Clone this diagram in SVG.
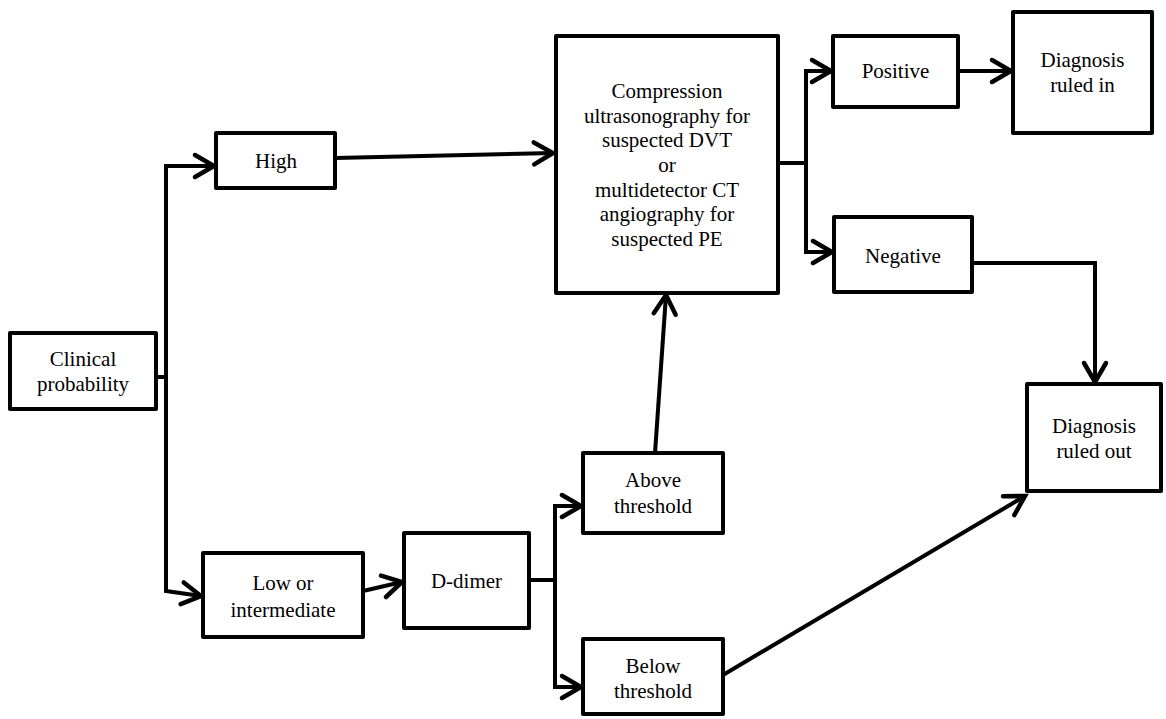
<svg xmlns="http://www.w3.org/2000/svg" width="1166" height="719" viewBox="0 0 1166 719">
<style>
.box{fill:#fff;stroke:#000;stroke-width:4;stroke-linejoin:round}
.t{font-family:'Liberation Serif','Times New Roman',serif;font-size:21px;fill:#000;text-anchor:middle}
.c{fill:none;stroke:#000;stroke-width:4;stroke-linejoin:miter}
.a{marker-end:url(#arr)}
</style>
<defs>
<marker id="arr" markerUnits="userSpaceOnUse" markerWidth="30" markerHeight="30" refX="0" refY="0" viewBox="-24 -15 30 30" orient="auto" overflow="visible">
<path d="M-19,-11 L0,0 L-19,11" fill="none" stroke="#000" stroke-width="4.5" stroke-linecap="round" stroke-linejoin="miter"/>
</marker>
</defs>
<g id="connectors">
<path class="c" d="M156,377 H166"/>
<path class="c a" d="M166,592 V166 H214"/>
<path class="c a" d="M166,588 V591 L201,596"/>
<path class="c a" d="M335,158 L553,153"/>
<path class="c a" d="M363,591 L402,582"/>
<path class="c" d="M529,580 H555"/>
<path class="c a" d="M555,580 V506 H581"/>
<path class="c a" d="M555,578 V687 H581"/>
<path class="c a" d="M655,453 L666,295"/>
<path class="c" d="M778,163 H806"/>
<path class="c a" d="M806,163 V71 H831"/>
<path class="c a" d="M806,161 V252 H832"/>
<path class="c a" d="M958,71 H1011"/>
<path class="c a" d="M972,263 H1095 V382"/>
<path class="c a" d="M723,675 L1025,496"/>
</g>
<g id="clinical">
<rect class="box" x="10" y="333" width="146" height="76"/>
<text class="t" x="83" y="366">Clinical</text>
<text class="t" x="83" y="391">probability</text>
</g>
<g id="high">
<rect class="box" x="216" y="133" width="119" height="55"/>
<text class="t" x="276" y="168">High</text>
</g>
<g id="low">
<rect class="box" x="203" y="553" width="160" height="84"/>
<text class="t" x="283" y="590">Low or</text>
<text class="t" x="283" y="617">intermediate</text>
</g>
<g id="ddimer">
<rect class="box" x="404" y="533" width="125" height="95"/>
<text class="t" x="466.5" y="588">D-dimer</text>
</g>
<g id="above">
<rect class="box" x="583" y="453" width="140" height="80"/>
<text class="t" x="653" y="487">Above</text>
<text class="t" x="653" y="513">threshold</text>
</g>
<g id="below">
<rect class="box" x="583" y="639" width="140" height="75"/>
<text class="t" x="653" y="673">Below</text>
<text class="t" x="653" y="698">threshold</text>
</g>
<g id="compression">
<rect class="box" x="556" y="36" width="222" height="257"/>
<text class="t" x="667" y="98">Compression</text>
<text class="t" x="667" y="123">ultrasonography for</text>
<text class="t" x="667" y="147">suspected DVT</text>
<text class="t" x="667" y="172">or</text>
<text class="t" x="667" y="197">multidetector CT</text>
<text class="t" x="667" y="221">angiography for</text>
<text class="t" x="667" y="246">suspected PE</text>
</g>
<g id="positive">
<rect class="box" x="833" y="36" width="125" height="71"/>
<text class="t" x="895.5" y="78">Positive</text>
</g>
<g id="negative">
<rect class="box" x="834" y="217" width="138" height="75"/>
<text class="t" x="903" y="263">Negative</text>
</g>
<g id="ruledin">
<rect class="box" x="1013" y="12" width="139" height="121"/>
<text class="t" x="1082.5" y="67">Diagnosis</text>
<text class="t" x="1082.5" y="92">ruled in</text>
</g>
<g id="ruledout">
<rect class="box" x="1027" y="384" width="134" height="107"/>
<text class="t" x="1094" y="433">Diagnosis</text>
<text class="t" x="1094" y="458">ruled out</text>
</g>
</svg>
